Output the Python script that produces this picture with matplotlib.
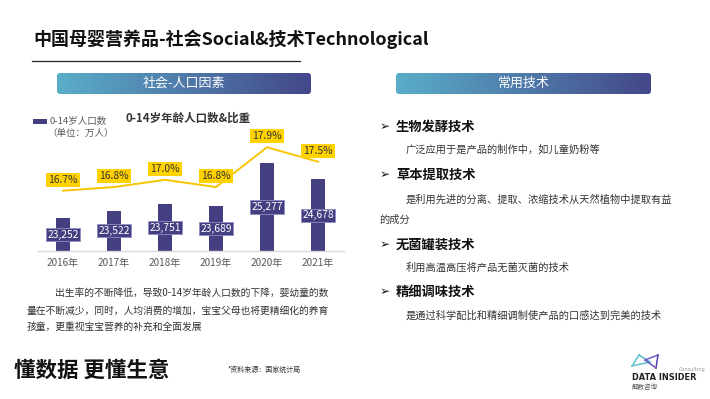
import numpy as np
import matplotlib.pyplot as plt
from matplotlib.colors import LinearSegmentedColormap
from matplotlib.patches import FancyBboxPatch, Rectangle
from matplotlib.lines import Line2D

plt.rcParams['font.family'] = ['Noto Sans CJK SC', 'DejaVu Sans']

W, H = 710, 399

# data
years = ['2016年', '2017年', '2018年', '2019年', '2020年', '2021年']
population = [23252, 23522, 23751, 23689, 25277, 24678]   # 万人
share = [16.7, 16.8, 17.0, 16.8, 17.9, 17.5]               # %

techs = ['生物发酵技术', '草本提取技术', '无菌罐装技术', '精细调味技术']
tech_lines = [
    ['广泛应用于是产品的制作中，如儿童奶粉等'],
    ['是利用先进的分离、提取、浓缩技术从天然植物中提取有益', '的成分'],
    ['利用高温高压将产品无菌灭菌的技术'],
    ['是通过科学配比和精细调制使产品的口感达到完美的技术'],
]
summary = ['出生率的不断降低，导致0-14岁年龄人口数的下降，婴幼童的数',
           '量在不断减少，同时，人均消费的增加，宝宝父母也将更精细化的养育',
           '孩童，更重视宝宝营养的补充和全面发展']

BAR = '#433f80'
GOLD = '#f7c600'
LABEL_Y = '#ffd200'


def fx(x):
    return x / W


def fy(y):
    return 1 - y / H


def pt(px):
    return px * 0.72


fig = plt.figure(figsize=(W / 100, H / 100), dpi=100)
fig.patch.set_facecolor('white')


def txt(x, y, s, size, **kw):
    fig.text(fx(x), fy(y), s, fontsize=pt(size), **kw)


# header
txt(33, 39, '中国母婴营养品-社会Social&技术Technological', 18, weight='bold',
    color='#111111', va='center')
fig.add_artist(Line2D([fx(32), fx(300)], [fy(61), fy(61)], color='#222222', lw=0.9))

# gradient banners
cmap = LinearSegmentedColormap.from_list('banner', ['#5aaec9', '#44478a'])


def banner(x0, x1, y0, y1, label):
    bax = fig.add_axes([fx(x0), fy(y1), fx(x1 - x0), (y1 - y0) / H])
    bax.set_axis_off()
    grad = np.linspace(0, 1, 256).reshape(1, -1)
    im = bax.imshow(grad, cmap=cmap, aspect='auto', extent=[0, 1, 0, 1])
    clip = FancyBboxPatch((0, 0), 1, 1, boxstyle='round,pad=0,rounding_size=%f' % (3 / (x1 - x0)),
                          mutation_aspect=(x1 - x0) / (y1 - y0), transform=bax.transAxes,
                          facecolor='none', edgecolor='none')
    bax.add_patch(clip)
    im.set_clip_path(clip)
    bax.text(0.5, 0.5, label, color='white', fontsize=pt(13), ha='center', va='center',
             transform=bax.transAxes)


banner(57, 311, 73, 94, '社会-人口因素')
banner(396, 651, 73, 94, '常用技术')

# bar + line chart
ymin, ymax = 22037, 27228
ax = fig.add_axes([fx(37.5), fy(251), fx(306), 141 / H])
x = np.arange(len(years))
ax.bar(x, population, width=0.28, color=BAR, zorder=2)
ax.set_xlim(-0.5, len(years) - 0.5)
ax.set_ylim(ymin, ymax)
ax.set_xticks(x)
ax.set_xticklabels(years)
ax.tick_params(axis='x', length=0, pad=pt(7), labelsize=pt(10), colors='#595959')
ax.set_yticks([])
for side in ['top', 'left', 'right']:
    ax.spines[side].set_visible(False)
ax.spines['bottom'].set_color('#d9d9d9')
ax.spines['bottom'].set_linewidth(1.0)
ax.patch.set_alpha(0)
for i, v in enumerate(population):
    ax.text(i, (ymin + v) / 2, f'{v:,}', ha='center', va='center', color='white',
            fontsize=pt(10.3), zorder=3,
            bbox=dict(boxstyle='square,pad=0.15', facecolor=BAR, edgecolor='#8f8dc4', lw=0.6))

ax2 = ax.twinx()
ax2.set_ylim(15.034, 18.929)
ax2.plot(x, share, color=GOLD, lw=1.4, zorder=1)
ax2.set_yticks([])
for side in ['top', 'left', 'right', 'bottom']:
    ax2.spines[side].set_visible(False)
for i, s in enumerate(share):
    ax2.annotate(f'{s:.1f}%', (i, s), xytext=(0, pt(11)), textcoords='offset points',
                 ha='center', va='center', fontsize=pt(10.3), color='#333333',
                 bbox=dict(boxstyle='square,pad=0.2', facecolor=LABEL_Y, edgecolor='none'))
ax.set_zorder(2)
ax2.set_zorder(1)

# legend + chart title
fig.add_artist(Rectangle((fx(32.5), fy(123.5)), fx(14.5), 4.5 / H, facecolor=BAR, edgecolor='none'))
txt(50, 121, '0-14岁人口数', 9.5, color='#595959', va='center')
txt(47, 133, '（单位：万人）', 9.5, color='#595959', va='center')
txt(188, 118, '0-14岁年龄人口数&比重', 11.5, weight='bold', color='#333333',
    ha='center', va='center')

# summary paragraph
txt(55, 293, summary[0], 9.8, color='#333333', va='center')
txt(27, 310.5, summary[1], 9.8, color='#333333', va='center')
txt(27, 327, summary[2], 9.8, color='#333333', va='center')

# technology list
head_y = [127, 175, 245, 292]
desc_y = [[150], [200, 220], [268], [316]]
for name, hy, lines, dys in zip(techs, head_y, tech_lines, desc_y):
    txt(380, hy, '➢', 12, color='#111111', va='center', family='DejaVu Sans')
    txt(396, hy, name, 13.3, weight='bold', color='#111111', va='center')
    for k, (line, dy) in enumerate(zip(lines, dys)):
        txt(406 if k == 0 else 379, dy, line, 10.2, color='#333333', va='center')

# footer
txt(14, 370, '懂数据 更懂生意', 21.5, weight='bold', color='#111111', va='center')
txt(228, 370, '*资料来源：国家统计局', 7, color='#333333', va='center')

# logo
icon = [((632, 366), (639, 355), '#5ec3cf'), ((639, 355), (650, 362), '#5ab6d0'),
        ((632, 366), (650, 362), '#62bfcf'), ((645, 360), (658, 355), '#6f5fc8'),
        ((658, 355), (656, 368), '#5a3fb0'), ((656, 368), (645, 360), '#6a55c0')]
for (x0, y0), (x1, y1), c in icon:
    fig.add_artist(Line2D([fx(x0), fx(x1)], [fy(y0), fy(y1)], color=c, lw=1.1))
txt(679, 369, 'Consulting', 5, color='#9a9a9a', va='center', family='DejaVu Sans')
txt(632, 378, 'DATA INSIDER', 8.3, weight='bold', color='#222222', va='center',
    family='DejaVu Sans')
txt(632, 387, '解数咨询', 6.5, color='#555555', va='center')

fig.savefig('out.png', dpi=100, facecolor='white')
